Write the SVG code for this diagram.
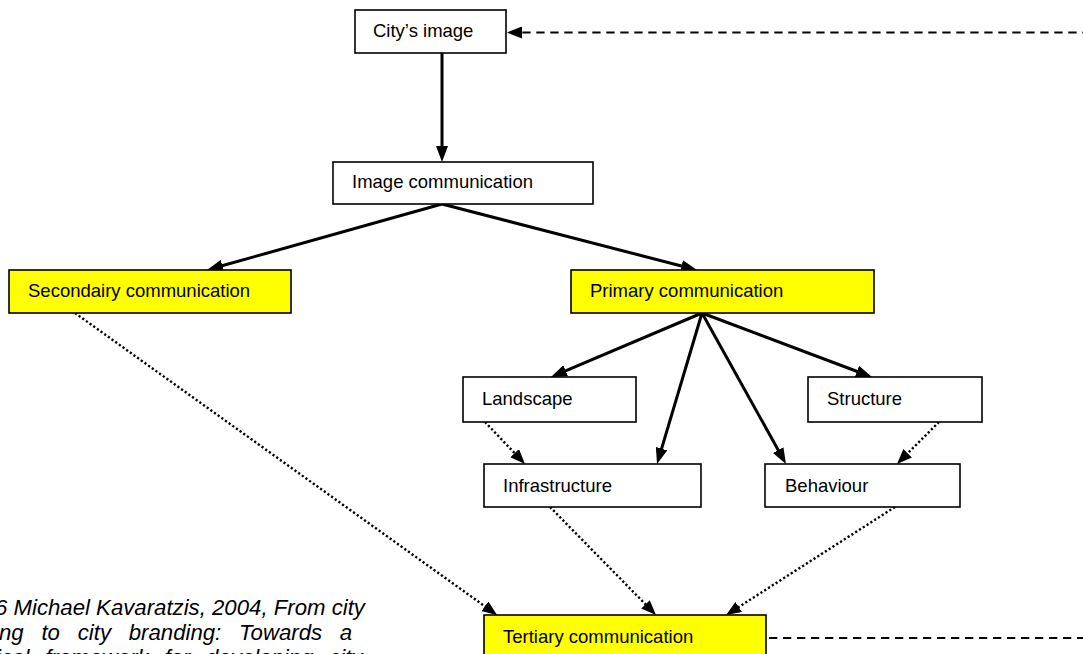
<svg xmlns="http://www.w3.org/2000/svg" width="1083" height="654" viewBox="0 0 1083 654">
  <style>
    .box { stroke: #000; stroke-width: 1.6; }
    .plain { fill: #fff; }
    .hl { fill: #ffff00; }
    .lbl { font-family: "Liberation Sans", Arial, sans-serif; font-size: 18.5px; fill: #000; }
    .solid { stroke: #000; stroke-width: 3; fill: none; }
    .dot { stroke: #000; stroke-width: 2.4; stroke-dasharray: 2.2 2.3; fill: none; }
    .dash { stroke: #000; stroke-width: 2; stroke-dasharray: 8.3 5.7; fill: none; }
    .cap { font-family: "Liberation Sans", Arial, sans-serif; font-size: 22.2px; font-style: italic; fill: #000; }
  </style>
  <defs>
    <!-- filled arrowhead; the tip sits 10px beyond the line end -->
    <marker id="head" viewBox="0 0 16 12" refX="6" refY="6" markerWidth="16" markerHeight="12" markerUnits="userSpaceOnUse" orient="auto">
      <path d="M0,0 L16,6 L0,12 Z" fill="#000"/>
    </marker>
    <marker id="headS" viewBox="0 0 15 12" refX="5" refY="6" markerWidth="15" markerHeight="12" markerUnits="userSpaceOnUse" orient="auto">
      <path d="M0,0 L15,6 L0,12 Z" fill="#000"/>
    </marker>
  </defs>

  <rect width="1083" height="654" fill="#fff"/>

  <!-- caption (italic, justified) -->
  <g id="caption">
    <text class="cap" x="-5" y="615">6 Michael Kavaratzis, 2004, From city</text>
    <text class="cap" x="-1" y="640" word-spacing="11.6">ng to city branding: Towards a</text>
    <text class="cap" x="-73" y="665" word-spacing="9.6">theoretical framework for developing city</text>
  </g>

  <!-- connectors -->
  <g id="connectors">
    <!-- solid -->
    <line class="solid" x1="442" y1="53" x2="442" y2="152" marker-end="url(#head)"/>
    <line class="solid" x1="442" y1="204" x2="216.6" y2="267.3" marker-end="url(#head)"/>
    <line class="solid" x1="442" y1="204" x2="687.3" y2="267.5" marker-end="url(#head)"/>
    <line class="solid" x1="702" y1="313" x2="560.2" y2="373.1" marker-end="url(#head)"/>
    <line class="solid" x1="702" y1="313" x2="659.9" y2="454.4" marker-end="url(#head)"/>
    <line class="solid" x1="702" y1="313" x2="781.1" y2="455.3" marker-end="url(#head)"/>
    <line class="solid" x1="702" y1="313" x2="862.6" y2="373.5" marker-end="url(#head)"/>
    <!-- dotted -->
    <line class="dot" x1="485" y1="422" x2="518.1" y2="456.8" marker-end="url(#headS)"/>
    <line class="dot" x1="939" y1="422" x2="904.1" y2="456.9" marker-end="url(#headS)"/>
    <line class="dot" x1="75" y1="313" x2="488.9" y2="609.2" marker-end="url(#headS)"/>
    <line class="dot" x1="550" y1="507" x2="649" y2="607.9" marker-end="url(#headS)"/>
    <line class="dot" x1="895" y1="507" x2="734.5" y2="609.7" marker-end="url(#headS)"/>
    <!-- dashed feedback -->
    <line class="dash" x1="1083" y1="32.5" x2="517" y2="32.5" stroke-dashoffset="7.6" marker-end="url(#headS)"/>
    <line class="dash" x1="769" y1="638" x2="1083" y2="638"/>
  </g>

  <g id="city-image">
    <rect class="box plain" x="355" y="10" width="151" height="43"/>
    <text class="lbl" x="373" y="37">City’s image</text>
  </g>
  <g id="image-communication">
    <rect class="box plain" x="333" y="162" width="260" height="42"/>
    <text class="lbl" x="352" y="188">Image communication</text>
  </g>
  <g id="secondary-communication">
    <rect class="box hl" x="9" y="270" width="282" height="43"/>
    <text class="lbl" x="28" y="297">Secondairy communication</text>
  </g>
  <g id="primary-communication">
    <rect class="box hl" x="571" y="270" width="303" height="43"/>
    <text class="lbl" x="590" y="297">Primary communication</text>
  </g>
  <g id="landscape">
    <rect class="box plain" x="463" y="377" width="173" height="45"/>
    <text class="lbl" x="482" y="405">Landscape</text>
  </g>
  <g id="structure">
    <rect class="box plain" x="808" y="377" width="174" height="45"/>
    <text class="lbl" x="827" y="405">Structure</text>
  </g>
  <g id="infrastructure">
    <rect class="box plain" x="484" y="464" width="217" height="43"/>
    <text class="lbl" x="503" y="492">Infrastructure</text>
  </g>
  <g id="behaviour">
    <rect class="box plain" x="765" y="464" width="195" height="43"/>
    <text class="lbl" x="785" y="492">Behaviour</text>
  </g>
  <g id="tertiary-communication">
    <rect class="box hl" x="484" y="615" width="282" height="60"/>
    <text class="lbl" x="503" y="643">Tertiary communication</text>
  </g>
</svg>
